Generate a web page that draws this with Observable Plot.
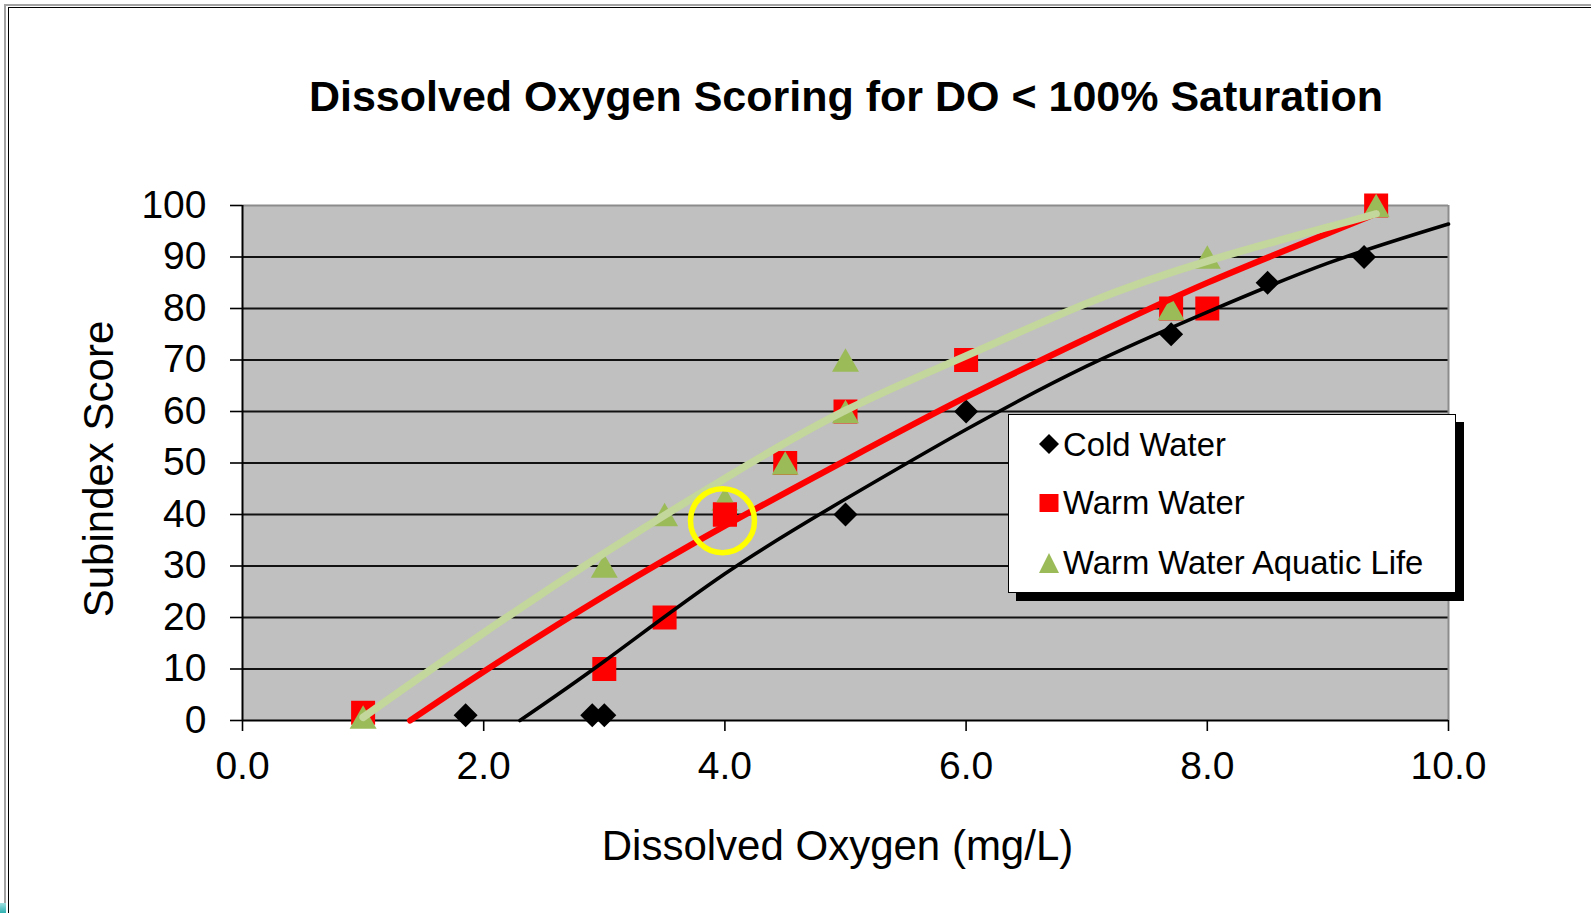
<!DOCTYPE html>
<html>
<head>
<meta charset="utf-8">
<script src="https://cdn.jsdelivr.net/npm/d3@7"></script>
<script src="https://cdn.jsdelivr.net/npm/@observablehq/plot@0.6"></script>
<style>
  html, body { margin: 0; padding: 0; background: #ffffff; }
  #page { position: relative; width: 1591px; height: 913px; overflow: hidden; background: #fff;
          font-family: "Liberation Sans", Arial, sans-serif; }
  .frameOuter { position: absolute; left: 4px; top: 4px; width: 1600px; height: 920px;
          border-left: 2px solid #a3a3a3; border-top: 2px solid #a3a3a3; }
  .frameInner { position: absolute; left: 8px; top: 7px; width: 1600px; height: 920px;
          border-left: 1.5px solid #000; border-top: 1.5px solid #000; }
  .corner { position: absolute; left: 0; top: 903px; width: 6px; height: 10px;
          background: linear-gradient(#9fe0e0, #30b0b0); }
  #title { position: absolute; left: 246px; width: 1200px; top: 75px; text-align: center;
          font-size: 43px; line-height: 43px; font-weight: bold; color: #000; white-space: pre; }
  #chart { position: absolute; left: 0; top: 0; }
  #legend { position: absolute; left: 1008px; top: 414px; width: 448px; height: 179px; box-sizing: border-box;
          background: #fff; border: 1.5px solid #000; box-shadow: 8px 8px 0 #000; }
  .lgText { position: absolute; left: 54px; font-size: 32.8px; line-height: 32.8px; color: #000; white-space: pre; }
  .lgSym { position: absolute; left: 28px; width: 24px; height: 24px; }
</style>
</head>
<body>
<div id="page">
  <div class="frameOuter"></div>
  <div class="frameInner"></div>
  <div class="corner"></div>
  <div id="chart"></div>
  <div id="title"></div>
  <div id="legend"></div>
</div>
<script>
// ---- text ----
const titleText = "Dissolved Oxygen Scoring for DO < 100% Saturation";
const xLabel = "Dissolved Oxygen (mg/L)";
const yLabel = "Subindex Score";
const seriesNames = ["Cold Water", "Warm Water", "Warm Water Aquatic Life"];

// ---- ticks ----
const xTicks = [0, 2, 4, 6, 8, 10];
const yTicks = [0, 10, 20, 30, 40, 50, 60, 70, 80, 90, 100];

// ---- scatter data ----
const coldX = [1.85, 2.9, 3.0, 5.0, 6.0, 7.7, 8.5, 9.3];
const coldY = [1, 1, 1, 40, 60, 75, 85, 90];
const warmX = [1.0, 3.0, 3.5, 4.0, 4.5, 5.0, 6.0, 7.7, 8.0, 9.4];
const warmY = [1.5, 10, 20, 40, 50, 60, 70, 80, 80, 100];
const aquaX = [1.0, 3.0, 3.5, 4.0, 4.5, 5.0, 5.0, 7.7, 8.0, 9.4];
const aquaY = [0.7, 30, 40, 43, 50, 60, 70, 80, 90, 100];

// ---- trendlines ----
const coldTrendX = [2.3, 3, 4, 5, 6, 7, 8, 9, 10];
const coldTrendY = [0, 11.5, 28.5, 43, 56.5, 68.8, 79.3, 88.8, 96.4];
const warmTrendX = [1.39, 2, 3, 4, 5, 6, 7, 8, 9, 9.4];
const warmTrendY = [0, 9.5, 24.2, 37.8, 50.5, 62.8, 74.2, 85, 94.6, 98.4];
const aquaTrendX = [1.0, 2, 3, 4, 5, 6, 7, 8, 9, 9.4];
const aquaTrendY = [0.6, 17, 32.5, 47, 60.2, 70.8, 81, 89.2, 95.8, 98.4];

// ---- highlighted point (Warm Water at 4.0, circled in yellow) ----
const highlightX = [4.0];
const highlightY = [40];
const ringX = [3.98];
const ringY = [38.8];

// ---- styling ----
const markerColors = ["#000000", "#ff0000", "#9bbb59"];
const trendColors = ["#000000", "#ff0000", "#c3d69b"];
const FONT = "'Liberation Sans', Arial, sans-serif";

const rows = (xs, ys) => xs.map((x, i) => ({x, y: ys[i]}));

// custom symbols: r = sqrt(size/PI) is half the marker's extent
const rad = (size) => Math.sqrt(size / Math.PI);
const diamondSym = {draw(ctx, size) { const r = rad(size);
  ctx.moveTo(0, -r); ctx.lineTo(r, 0); ctx.lineTo(0, r); ctx.lineTo(-r, 0); ctx.closePath(); }};
const squareSym = {draw(ctx, size) { const r = rad(size); ctx.rect(-r, -r, 2 * r, 2 * r); }};
const triangleSym = {draw(ctx, size) { const r = rad(size);
  ctx.moveTo(0, -0.87 * r); ctx.lineTo(r, 0.87 * r); ctx.lineTo(-r, 0.87 * r); ctx.closePath(); }};

const chart = Plot.plot({
  width: 1591,
  height: 913,
  marginTop: 205,
  marginBottom: 193,
  marginLeft: 242,
  marginRight: 143,
  style: {fontFamily: FONT, background: "transparent", color: "#000", overflow: "visible"},
  x: {domain: [0, 10]},
  y: {domain: [0, 100]},
  marks: [
    Plot.frame({fill: "#c0c0c0", stroke: "none"}),
    Plot.ruleY(yTicks.filter(d => d > 0 && d < 100), {stroke: "#111", strokeWidth: 1.8}),
    Plot.ruleY([100], {stroke: "#8c8c8c", strokeWidth: 2}),
    Plot.ruleX([10], {stroke: "#8c8c8c", strokeWidth: 2}),
    Plot.axisY({ticks: yTicks, tickSize: 12, tickPadding: 24, fontSize: 39, label: null, strokeWidth: 1.6}),
    Plot.axisX({ticks: xTicks, tickFormat: d3.format(".1f"), tickSize: 11, tickPadding: 20, fontSize: 39, label: null, strokeWidth: 1.6}),
    Plot.ruleX([0], {stroke: "#000", strokeWidth: 2}),
    Plot.ruleY([0], {stroke: "#000", strokeWidth: 2.2}),
    Plot.text([xLabel], {frameAnchor: "bottom", lineAnchor: "bottom", dy: 139, dx: -8, fontSize: 42, fill: "#000"}),
    Plot.text([yLabel], {frameAnchor: "left", textAnchor: "middle", lineAnchor: "bottom", rotate: -90, dx: -130, dy: 6, fontSize: 42, fill: "#000"}),
    Plot.dot(rows(coldX, coldY), {x: "x", y: "y", symbol: diamondSym, r: 12, fill: markerColors[0], stroke: "none"}),
    Plot.dot(rows(warmX, warmY), {x: "x", y: "y", symbol: squareSym, r: 12, fill: markerColors[1], stroke: "none"}),
    Plot.dot(rows(aquaX, aquaY), {x: "x", y: "y", symbol: triangleSym, r: 13.5, fill: markerColors[2], stroke: "none"}),
    Plot.dot(rows(highlightX, highlightY), {x: "x", y: "y", symbol: squareSym, r: 12, fill: markerColors[1], stroke: "none"}),
    Plot.line(rows(coldTrendX, coldTrendY), {x: "x", y: "y", curve: "natural", stroke: trendColors[0], strokeWidth: 3.6}),
    Plot.line(rows(warmTrendX, warmTrendY), {x: "x", y: "y", curve: "natural", stroke: trendColors[1], strokeWidth: 6.2}),
    Plot.line(rows(aquaTrendX, aquaTrendY), {x: "x", y: "y", curve: "natural", stroke: trendColors[2], strokeWidth: 7.5}),
    Plot.dot(rows(ringX, ringY), {x: "x", y: "y", r: 32, fill: "none", stroke: "#ffff00", strokeWidth: 5.5})
  ]
});
document.getElementById("chart").appendChild(chart);

// title
document.getElementById("title").textContent = titleText;

// legend
const legend = document.getElementById("legend");
const lgTops = [14, 72, 132];
const symCenters = [29, 88, 148];
const symPaths = [
  "M12,2 L22,12 L12,22 L2,12 Z",
  "M2.5,3 L21.5,3 L21.5,21 L2.5,21 Z",
  "M12,2 L22,22 L2,22 Z"
];
seriesNames.forEach((name, i) => {
  const s = document.createElementNS("http://www.w3.org/2000/svg", "svg");
  s.setAttribute("class", "lgSym");
  s.setAttribute("viewBox", "0 0 24 24");
  s.style.top = (symCenters[i] - 12) + "px";
  const p = document.createElementNS("http://www.w3.org/2000/svg", "path");
  p.setAttribute("d", symPaths[i]);
  p.setAttribute("fill", markerColors[i]);
  s.appendChild(p);
  legend.appendChild(s);
  const t = document.createElement("div");
  t.className = "lgText";
  t.style.top = lgTops[i] + "px";
  t.textContent = name;
  legend.appendChild(t);
});
</script>
</body>
</html>
